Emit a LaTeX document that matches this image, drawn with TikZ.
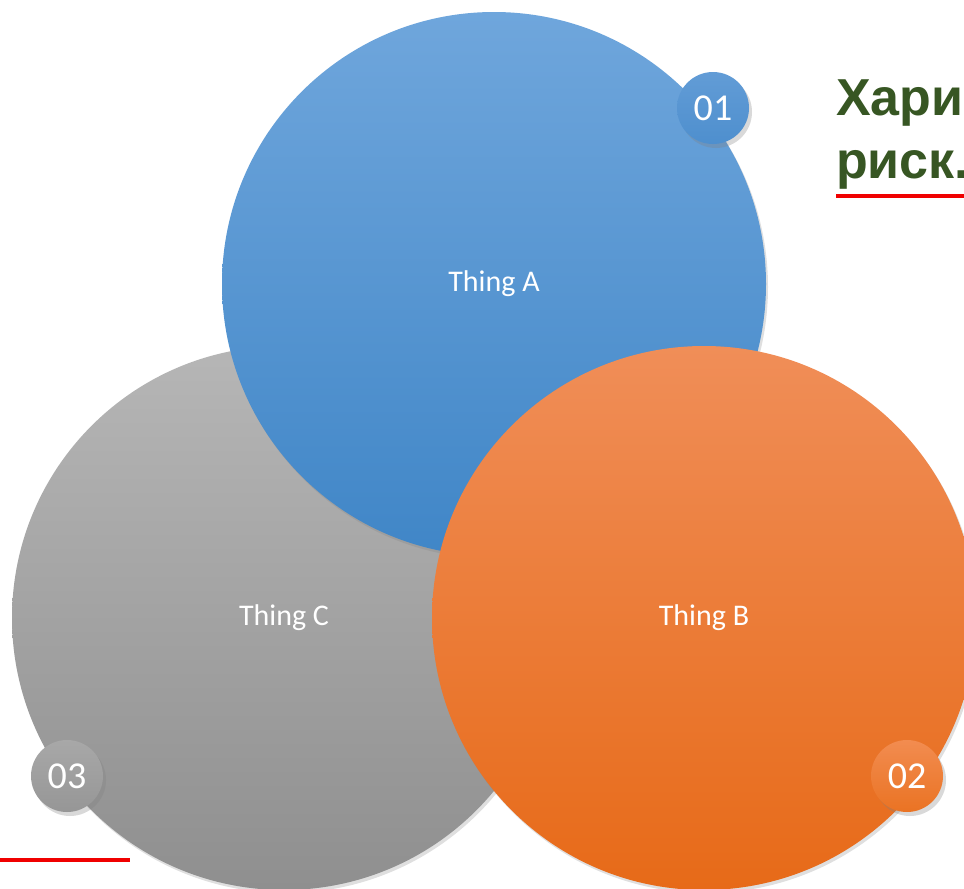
\documentclass[tikz,border=0pt]{standalone}
\usepackage{fontspec}
\setmainfont{Carlito}
\newfontfamily\rufont{Liberation Sans}
\usetikzlibrary{shadows}
\definecolor{titlegreen}{RGB}{55,86,35}
\definecolor{redline}{RGB}{240,0,0}
\tikzstyle{bigcirc}=[circle,minimum size=544pt,inner sep=0pt,text=white,font=\fontsize{30}{36}\selectfont,drop shadow={opacity=0.25,shadow xshift=2pt,shadow yshift=-3pt}]
\tikzstyle{badge}=[circle,minimum size=72pt,inner sep=0pt,text=white,font=\fontsize{38}{44}\selectfont,drop shadow={opacity=0.3,shadow xshift=3pt,shadow yshift=-4pt}]
\tikzstyle{title}=[anchor=base west,inner sep=0pt,text=titlegreen,font=\rufont\bfseries\fontsize{52}{63}\selectfont]
\tikzstyle{uline}=[redline,line width=4pt]

\begin{document}
\begin{tikzpicture}[x=1pt,y=-1pt]
\useasboundingbox (0,0) rectangle (964,889);
\clip (0,0) rectangle (964,889);
\node[bigcirc,top color={rgb,255:red,182;green,182;blue,182},bottom color={rgb,255:red,143;green,143;blue,143}] (C) at (284,618) {Thing C};
\node[bigcirc,top color={rgb,255:red,111;green,166;blue,220},bottom color={rgb,255:red,64;green,134;blue,199}] (A) at (494,284) {Thing A};
\node[bigcirc,top color={rgb,255:red,240;green,142;blue,88},bottom color={rgb,255:red,231;green,106;blue,24}] (B) at (704,618) {Thing B};
\node[badge,top color={rgb,255:red,98;green,156;blue,214},bottom color={rgb,255:red,78;green,143;blue,206}] (n1) at (713,108) {01};
\node[badge,top color={rgb,255:red,242;green,140;blue,80},bottom color={rgb,255:red,234;green,115;blue,35}] (n2) at (907,776) {02};
\node[badge,top color={rgb,255:red,168;green,168;blue,168},bottom color={rgb,255:red,150;green,150;blue,150}] (n3) at (67,776) {03};
\node[title] (title1) at (836,115) {Хари};
\node[title] (title2) at (836,178) {риск.};
\coordinate (t1) at (836,196);
\coordinate (t2) at (964,196);
\draw[uline] (t1)--(t2);
\coordinate (b1) at (0,860);
\coordinate (b2) at (130,860);
\draw[uline] (b1)--(b2);
\end{tikzpicture}
\end{document}
